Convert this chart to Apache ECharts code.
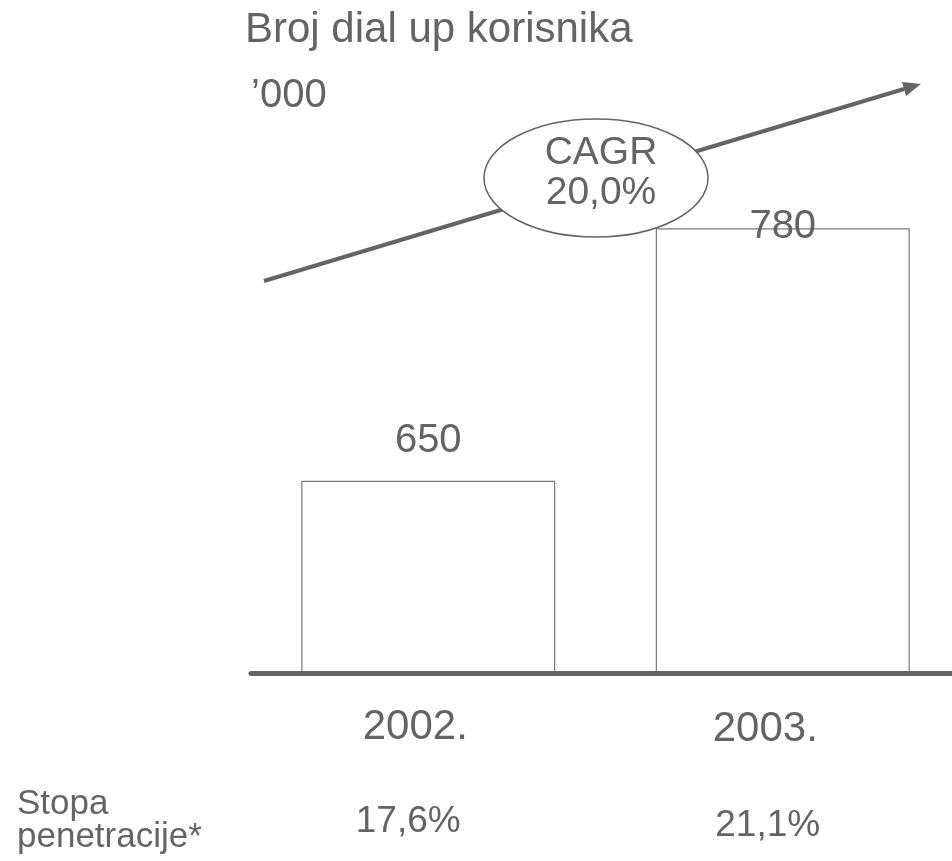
<!DOCTYPE html>
<html>
<head>
<meta charset="utf-8">
<script src="https://cdn.jsdelivr.net/npm/echarts@6/dist/echarts.min.js"></script>
<style>
  html, body { margin: 0; padding: 0; background: #fff; }
  #main { width: 952px; height: 861px; }
</style>
</head>
<body>
<div id="main"></div>
<script>
// podaci
var years = ['2002.', '2003.']
var users = [650, 780]
var penetration = ['17,6%', '21,1%']
var cagrText = 'CAGR\n20,0%'

var grey = '#646464'
var font = 'Liberation Sans, Arial, sans-serif'

var myChart = echarts.init(document.getElementById('main'))

var option = {
  animation: false,
  textStyle: { fontFamily: font, color: grey },
  grid: { left: 251, width: 709, top: 100, bottom: 188, outerBoundsMode: 'none', containLabel: false },
  xAxis: [
    {
      type: 'category',
      data: years,
      position: 'bottom',
      z: 3,
      axisLine: { lineStyle: { color: grey, width: 5, cap: 'round' } },
      axisTick: { show: false },
      axisLabel: {
        margin: 33,
        formatter: function (v, i) { return '{y' + i + '|' + v + '}' },
        rich: {
          y0: { fontSize: 42, lineHeight: 42, color: grey, fontFamily: font, padding: [0, 26, 0, 0] },
          y1: { fontSize: 42, lineHeight: 42, color: grey, fontFamily: font, padding: [4, 35, 0, 0] }
        }
      }
    },
    {
      // stopa penetracije ispod godina
      type: 'category',
      data: years,
      position: 'bottom',
      z: 3,
      axisLine: { show: false },
      axisTick: { show: false },
      axisLabel: {
        margin: 130,
        formatter: function (v, i) { return '{p' + i + '|' + penetration[i] + '}' },
        rich: {
          p0: { fontSize: 37, lineHeight: 37, color: grey, fontFamily: font, padding: [0, 40, 0, 0] },
          p1: { fontSize: 37, lineHeight: 37, color: grey, fontFamily: font, padding: [9, 30, 0, 0] }
        }
      }
    }
  ],
  yAxis: {
    type: 'value',
    min: 551,
    max: 846,
    show: false,
    splitLine: { show: false }
  },
  series: [{
    type: 'bar',
    xAxisIndex: 0,
    barWidth: 254,
    itemStyle: { color: '#fff', borderColor: '#7a7a7a', borderWidth: 1.2 },
    label: {
      show: true,
      position: 'top',
      fontSize: 40,
      lineHeight: 40,
      color: grey,
      fontFamily: font
    },
    data: users.map(function (v, i) {
      return { value: v, label: { distance: i === 0 ? 20 : -19 } }
    })
  }],
  graphic: [
    {
      type: 'text', x: 245, y: 30, z: 20,
      style: { text: 'Broj dial up korisnika', font: '42px ' + font, fill: grey, align: 'left', verticalAlign: 'middle' }
    },
    {
      type: 'text', x: 251, y: 96, z: 20,
      style: { text: '\u2019000', font: '40px ' + font, fill: grey, align: 'left', verticalAlign: 'middle' }
    },
    // strelica rasta
    {
      type: 'line', z: 10,
      shape: { x1: 264, y1: 281, x2: 904, y2: 89 },
      style: { stroke: grey, lineWidth: 4 }
    },
    {
      type: 'polygon', z: 10,
      shape: { points: [[921, 84], [906, 96], [902, 82]] },
      style: { fill: grey }
    },
    {
      type: 'ellipse', z: 11,
      shape: { cx: 596, cy: 178, rx: 112, ry: 59 },
      style: { fill: '#fff', stroke: grey, lineWidth: 1.5 }
    },
    {
      type: 'text', x: 601, y: 173, z: 12,
      style: { text: cagrText, font: '39px ' + font, lineHeight: 40, fill: grey, align: 'center', verticalAlign: 'middle' }
    },
    {
      type: 'text', x: 17, y: 821, z: 20,
      style: { text: 'Stopa\npenetracije*', font: '35px ' + font, lineHeight: 33, fill: grey, align: 'left', verticalAlign: 'middle' }
    }
  ]
}

myChart.setOption(option)
</script>
</body>
</html>
